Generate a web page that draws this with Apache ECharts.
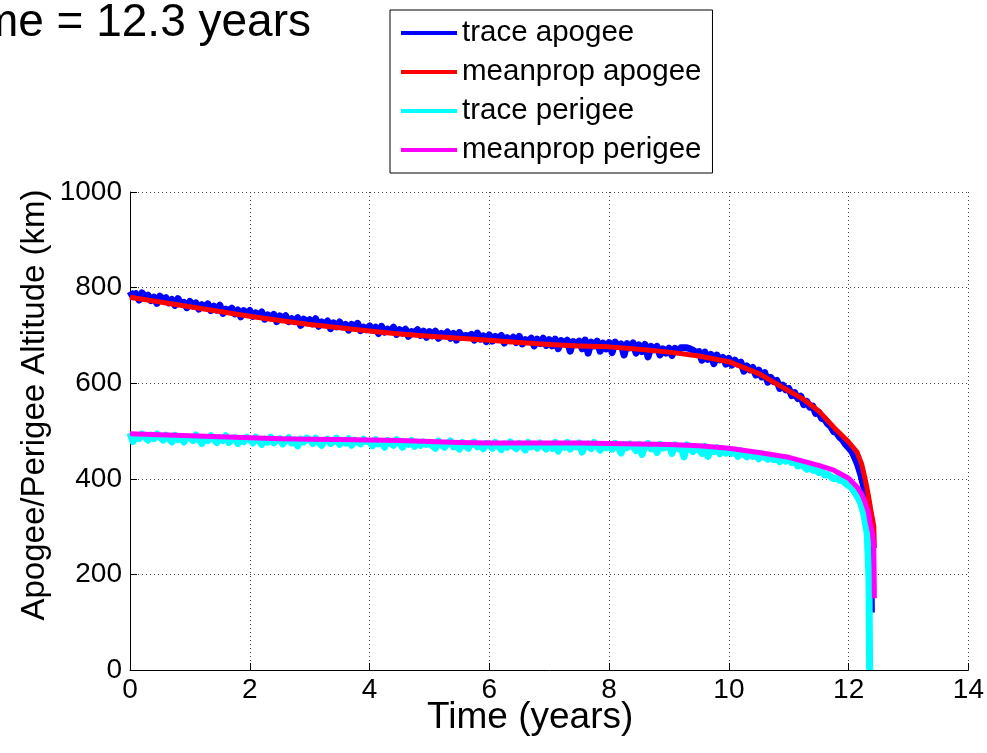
<!DOCTYPE html>
<html>
<head>
<meta charset="utf-8">
<script src="https://cdn.jsdelivr.net/npm/echarts@6/dist/echarts.min.js"></script>
<style>
html,body{margin:0;padding:0;background:#fff;}
#chart{width:987px;height:753px;}
</style>
</head>
<body>
<div id="chart"></div>
<script>
// ---- data ----
var titleText = 'Lifetime = 12.3 years';
var xTicks = [0, 2, 4, 6, 8, 10, 12, 14];
var yTicks = [0, 200, 400, 600, 800, 1000];

// shared sample times of the noisy traces (years)
var traceTimes = [
  0,0.05,0.1,0.15,0.2,0.25,0.3,0.35,0.4,0.45,0.5,0.55,0.6,0.65,0.7,0.75,0.8,0.85,0.9,0.95,
  1,1.05,1.1,1.15,1.2,1.25,1.3,1.35,1.4,1.45,1.5,1.55,1.6,1.65,1.7,1.75,1.8,1.85,1.9,1.95,
  2,2.05,2.1,2.15,2.2,2.25,2.3,2.35,2.4,2.45,2.5,2.55,2.6,2.65,2.7,2.75,2.8,2.85,2.9,2.95,
  3,3.05,3.1,3.15,3.2,3.25,3.3,3.35,3.4,3.45,3.5,3.55,3.6,3.65,3.7,3.75,3.8,3.85,3.9,3.95,
  4,4.05,4.1,4.15,4.2,4.25,4.3,4.35,4.4,4.45,4.5,4.55,4.6,4.65,4.7,4.75,4.8,4.85,4.9,4.95,
  5,5.05,5.1,5.15,5.2,5.25,5.3,5.35,5.4,5.45,5.5,5.55,5.6,5.65,5.7,5.75,5.8,5.85,5.9,5.95,
  6,6.05,6.1,6.15,6.2,6.25,6.3,6.35,6.4,6.45,6.5,6.55,6.6,6.65,6.7,6.75,6.8,6.85,6.9,6.95,
  7,7.05,7.1,7.15,7.2,7.25,7.3,7.35,7.4,7.45,7.5,7.55,7.6,7.65,7.7,7.75,7.8,7.85,7.9,7.95,
  8,8.05,8.1,8.15,8.2,8.25,8.3,8.35,8.4,8.45,8.5,8.55,8.6,8.65,8.7,8.75,8.8,8.85,8.9,8.95,
  9,9.05,9.1,9.15,9.2,9.25,9.3,9.35,9.4,9.45,9.5,9.55,9.6,9.65,9.7,9.75,9.8,9.85,9.9,9.95,
  10,10.05,10.1,10.15,10.2,10.25,10.3,10.35,10.4,10.45,10.5,10.55,10.6,10.65,10.7,10.75,10.8,10.85,10.9,10.95,
  11,11.05,11.1,11.15,11.2,11.25,11.3,11.35,11.4,11.45,11.5,11.55,11.6,11.65,11.7,11.75,11.8,11.85,11.9,11.95,
  12,12.05,12.1,12.15,12.2
];

// trace apogee (km)
var traceApogee = [
  792,781,787,774,789,780,784,773,780,767,782,775,779,768,775,763,777,767,769,758,
  771,762,768,755,764,759,766,752,761,753,763,746,755,752,757,745,753,739,752,744,
  752,740,747,741,749,734,743,737,744,729,741,735,741,729,735,729,737,721,734,728,
  733,724,735,719,728,724,730,714,726,718,728,718,723,711,723,718,725,710,717,712,
  720,711,717,704,719,707,713,709,717,702,712,705,713,698,708,706,712,700,709,696,
  708,699,709,694,704,700,707,694,704,690,706,696,700,698,702,690,705,692,699,687,
  701,688,698,692,700,684,695,689,696,685,698,682,691,688,694,678,692,683,694,679,
  691,678,692,672,689,682,690,667,687,681,688,672,690,663,686,678,688,667,684,672,
  685,664,686,677,682,659,683,674,684,663,680,666,681,655,677,670,677,659,672,663,
  673,658,673,666,674,674,674,672,669,664,666,648,665,650,660,641,659,649,654,640,
  652,638,648,640,644,625,636,628,633,617,627,613,622,602,612,603,606,589,596,586,
  589,574,580,568,573,555,562,550,552,537,539,526,525,515,510,499,496,487,481,472,
  465,458,445,430,410
];
var traceApogeeTailT = [12.28, 12.33, 12.36, 12.38];
var traceApogeeTailV = [370, 350, 318, 120];

// trace perigee (km)
var tracePerigee = [
  496,478,491,484,494,487,481,491,484,494,487,481,491,484,477,491,482,487,477,487,
  486,480,492,482,474,486,480,490,482,476,486,480,490,476,482,486,474,483,478,487,
  483,475,487,480,472,483,477,487,475,481,484,473,480,486,475,481,469,483,477,485,
  482,474,485,476,470,479,483,474,478,485,472,480,475,484,470,481,477,473,483,478,
  478,469,482,473,476,466,480,474,470,482,475,466,477,472,480,468,475,470,477,472,
  476,469,464,479,471,466,474,479,467,472,462,476,469,464,474,477,467,472,463,474,
  472,464,476,469,461,473,466,477,468,463,474,470,460,476,467,472,464,475,469,462,
  472,464,476,458,470,466,476,462,471,467,475,456,469,473,463,476,468,460,472,465,
  471,462,474,467,454,472,465,473,467,459,472,451,469,474,463,470,455,472,464,467,
  470,453,471,463,467,446,471,463,457,466,461,453,468,447,462,457,465,452,460,454,
  462,453,458,447,459,451,446,454,447,450,442,452,445,441,447,440,443,436,444,437,
  441,434,438,427,431,426,420,426,418,419,413,416,408,409,405,400,402,397,396,390,
  386,381,372,362,350
];
var tracePerigeeTailT = [12.25, 12.31, 12.34, 12.35];
var tracePerigeeTailV = [328, 286, 188, 0];

// meanprop apogee
var meanApoT = [0,0.5,1,1.5,2,2.5,3,3.5,4,4.5,5,5.5,6,6.5,7,7.5,8,8.5,9,9.5,10,10.5,11,11.25,11.5,11.75,12,12.14,12.22,12.28,12.33,12.36,12.4,12.42,12.43];
var meanApoV = [780,770,760,750,740,731,723,716,709,703,698,694,690,685,681,678,676,671,665,657,645,620,584,566,542,508,477,456,430,397,365,341,315,300,255];

// meanprop perigee
var meanPerT = [0,0.5,1,1.5,2,2.5,3,3.5,4,4.5,5,5.5,6,6.5,7,7.5,8,8.5,9,9.5,10,10.5,11,11.5,11.75,12,12.14,12.22,12.28,12.33,12.36,12.4,12.42,12.43];
var meanPerV = [494,492,490,488,486,484,483,482,481,480,478,476,475,475,475,475,474,473,472,469,464,455,445,428,418,401,383,368,349,330,307,285,257,150];

// ---- build series data ----
function pairs(ts, vs) { var out = []; for (var i = 0; i < ts.length; i++) out.push([ts[i], vs[i]]); return out; }
var apoTraceData = pairs(traceTimes, traceApogee).concat(pairs(traceApogeeTailT, traceApogeeTailV));
var perTraceData = pairs(traceTimes, tracePerigee).concat(pairs(tracePerigeeTailT, tracePerigeeTailV));

var FONT = '"Liberation Sans", Arial, Helvetica, sans-serif';
var chart = echarts.init(document.getElementById('chart'));
function lineSeries(name, color, data, w) {
  return {
    name: name, type: 'line', data: data, showSymbol: false, symbol: 'none',
    color: color, lineStyle: { color: color, width: w, join: 'round', cap: 'butt' }, animation: false
  };
}
chart.setOption({
  backgroundColor: '#ffffff',
  animation: false,
  title: {
    text: titleText,
    right: 671, top: -5,
    textStyle: { fontFamily: FONT, fontSize: 46, fontWeight: 'normal', color: '#000' }
  },
  grid: { left: 130, right: 17, top: 192, bottom: 83, containLabel: false },
  legend: {
    left: 390, top: 10, orient: 'vertical',
    backgroundColor: '#fff', borderColor: '#000', borderWidth: 1,
    padding: [8, 11, 8, 11],
    itemWidth: 56, itemHeight: 4, itemGap: 9, icon: 'rect',
    textStyle: { fontFamily: FONT, fontSize: 29.5, color: '#000', lineHeight: 30 },
    data: ['trace apogee', 'meanprop apogee', 'trace perigee', 'meanprop perigee']
  },
  xAxis: {
    type: 'value', min: xTicks[0], max: xTicks[xTicks.length - 1], interval: 2,
    name: 'Time (years)', nameLocation: 'middle', nameGap: 29, nameMoveOverlap: false,
    nameTextStyle: { fontFamily: FONT, fontSize: 37, color: '#000', padding: [0, 38, 0, 0] },
    axisLine: { show: true, lineStyle: { color: '#000', width: 1 } },
    axisTick: { show: true, inside: true, length: 7, lineStyle: { color: '#000' } },
    axisLabel: { fontFamily: FONT, fontSize: 28, color: '#000', margin: 6 },
    splitLine: { show: true, lineStyle: { color: '#444', type: [1, 3], width: 1 } }
  },
  yAxis: {
    type: 'value', min: yTicks[0], max: yTicks[yTicks.length - 1], interval: 200,
    name: 'Apogee/Perigee Altitude (km)', nameLocation: 'middle', nameGap: 79, nameMoveOverlap: false,
    nameTextStyle: { fontFamily: FONT, fontSize: 33, color: '#000', padding: [0, 0, 0, 52] },
    axisLine: { show: true, lineStyle: { color: '#000', width: 1 } },
    axisTick: { show: true, inside: true, length: 7, lineStyle: { color: '#000' } },
    axisLabel: { fontFamily: FONT, fontSize: 28, color: '#000', margin: 8, formatter: function (v) { return String(v); } },
    splitLine: { show: true, lineStyle: { color: '#444', type: [1, 3], width: 1 } }
  },
  series: [
    lineSeries('trace apogee', '#0000ff', apoTraceData, 7),
    lineSeries('meanprop apogee', '#ff0000', pairs(meanApoT, meanApoV), 5),
    lineSeries('trace perigee', '#00ffff', perTraceData, 7),
    lineSeries('meanprop perigee', '#ff00ff', pairs(meanPerT, meanPerV), 5)
  ]
});
</script>
</body>
</html>
